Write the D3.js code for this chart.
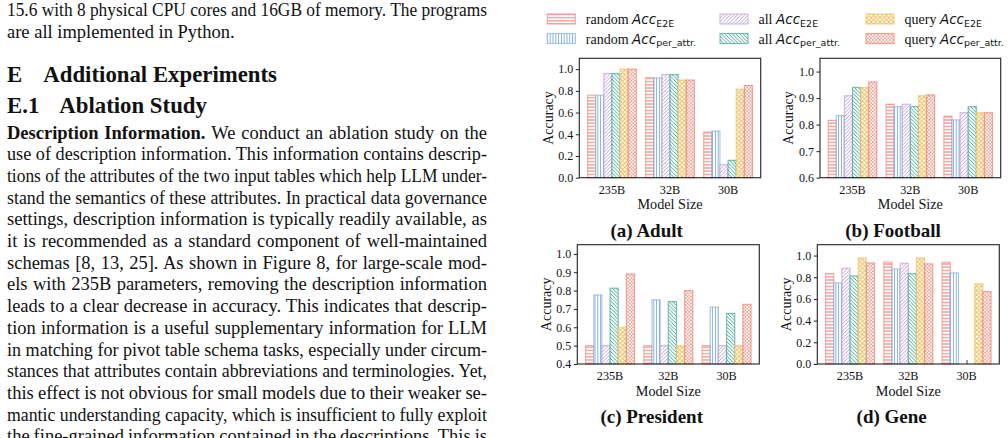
<!DOCTYPE html>
<html>
<head>
<meta charset="utf-8">
<script src="https://cdn.jsdelivr.net/npm/d3@7"></script>
<style>
  body { margin: 0; background: #fff; }
  svg { display: block; }
</style>
</head>
<body>
<svg id="page" width="1008" height="438"></svg>
<script>
// ---- data ----
const models = ["235B", "32B", "30B"];
const seriesPrefix = ["random", "random", "all", "all", "query", "query"];
const seriesSub = ["E2E", "per_attr.", "E2E", "per_attr.", "E2E", "per_attr."];
const seriesColor = ["#ee7b72", "#78a7e0", "#b796cf", "#2a9c89", "#edbd5a", "#e6735f"];

// rows = model size, columns = series (same order as seriesPrefix)
const adultAcc = [
  [0.76, 0.76, 0.96, 0.96, 1.00, 1.00],
  [0.92, 0.92, 0.95, 0.95, 0.90, 0.90],
  [0.42, 0.43, 0.12, 0.16, 0.815, 0.85]
];
const footballAcc = [
  [0.816, 0.834, 0.909, 0.940, 0.940, 0.961],
  [0.877, 0.868, 0.877, 0.868, 0.909, 0.912],
  [0.832, 0.818, 0.845, 0.868, 0.845, 0.845]
];
const presidentAcc = [
  [0.50, 0.776, 0.50, 0.813, 0.60, 0.89],
  [0.50, 0.75, 0.50, 0.74, 0.50, 0.80],
  [0.50, 0.71, 0.50, 0.675, 0.50, 0.725]
];
const geneAcc = [
  [0.834, 0.748, 0.883, 0.812, 0.978, 0.932],
  [0.940, 0.877, 0.929, 0.834, 0.978, 0.923],
  [0.938, 0.840, 0, 0, 0.740, 0.668]
];
const ticks01 = [0, 0.2, 0.4, 0.6, 0.8, 1.0];
const ticksFootball = [0.6, 0.7, 0.8, 0.9, 1.0];
const ticksPresident = [0.4, 0.5, 0.6, 0.7, 0.8, 0.9, 1.0];

const bodyTop = [
  "15.6 with 8 physical CPU cores and 16GB of memory. The programs",
  "are all implemented in Python."
];
const bodyLines = [
  "We conduct an ablation study on the",
  "use of description information. This information contains descrip-",
  "tions of the attributes of the two input tables which help LLM under-",
  "stand the semantics of these attributes. In practical data governance",
  "settings, description information is typically readily available, as",
  "it is recommended as a standard component of well-maintained",
  "schemas [8, 13, 25]. As shown in Figure 8, for large-scale mod-",
  "els with 235B parameters, removing the description information",
  "leads to a clear decrease in accuracy. This indicates that descrip-",
  "tion information is a useful supplementary information for LLM",
  "in matching for pivot table schema tasks, especially under circum-",
  "stances that attributes contain abbreviations and terminologies. Yet,",
  "this effect is not obvious for small models due to their weaker se-",
  "mantic understanding capacity, which is insufficient to fully exploit",
  "the fine-grained information contained in the descriptions. This is"
];

const svg = d3.select("#page");
const serif = "'Liberation Serif', 'Times New Roman', serif";

// ---- left column text ----
const colX = 7, colW = 480;
function justify(sel, W) {
  const node = sel.node();
  const len = node.getComputedTextLength();
  const spaces = (node.textContent.match(/ /g) || []).length;
  const ws = (W - len) / spaces;
  // too long: squeeze the whole line instead of gluing words together
  if (ws > -1) sel.style("word-spacing", ws + "px");
  else sel.attr("textLength", W).attr("lengthAdjust", "spacingAndGlyphs");
}

bodyTop.forEach((t, i) => {
  const tx = svg.append("text").attr("x", colX).attr("y", 15.5 + i * 22)
    .style("font-family", serif).style("font-size", "18.5px").attr("fill", "#111").text(t);
  if (i == 0) justify(tx, colW);
});

[["E", 7, 81.7], ["Additional Experiments", 43.3, 81.7], ["E.1", 7, 113.3], ["Ablation Study", 59.3, 113.3]]
  .forEach(h => svg.append("text").attr("x", h[1]).attr("y", h[2]).style("font-family", serif)
    .style("font-size", "22.8px").style("font-weight", "bold").attr("fill", "#111").text(h[0]));

bodyLines.forEach((t, i) => {
  const tx = svg.append("text").attr("x", colX).attr("y", 138.5 + i * 21.7)
    .style("font-family", serif).style("font-size", "18.5px").attr("fill", "#111");
  if (i == 0) {
    tx.append("tspan").style("font-weight", "bold").text("Description Information. ");
  }
  tx.append("tspan").text(t);
  justify(tx, colW);
});

// ---- hatch patterns ----
const defs = svg.append("defs");
function pattern(j, w, h, draw) {
  const p = defs.append("pattern").attr("id", "hatch" + j)
    .attr("patternUnits", "userSpaceOnUse").attr("width", w).attr("height", h);
  p.append("rect").attr("width", w).attr("height", h).attr("fill", "#fff");
  draw(p, seriesColor[j]);
}
pattern(0, 4, 3.2, (p, c) => p.append("line").attr("x1", 0).attr("x2", 4).attr("y1", 1.6).attr("y2", 1.6)
  .attr("stroke", c).attr("stroke-width", 1));
pattern(1, 2.8, 4, (p, c) => p.append("line").attr("x1", 1.4).attr("x2", 1.4).attr("y1", 0).attr("y2", 4)
  .attr("stroke", c).attr("stroke-width", 0.9));
pattern(2, 3.6, 3.6, (p, c) => p.append("path").attr("d", "M0,3.6L3.6,0M-1,1L1,-1M2.6,4.6L4.6,2.6")
  .attr("stroke", c).attr("stroke-width", 0.9));
pattern(3, 3.6, 3.6, (p, c) => p.append("path").attr("d", "M0,0L3.6,3.6M-1,2.6L1,4.6M2.6,-1L4.6,1")
  .attr("stroke", c).attr("stroke-width", 0.9));
pattern(4, 4.4, 4.4, (p, c) => p.append("path")
  .attr("d", "M0,0L4.4,4.4M0,4.4L4.4,0M-1,1L1,-1M3.4,5.4L5.4,3.4M-1,3.4L1,5.4M3.4,-1L5.4,1")
  .attr("stroke", c).attr("stroke-width", 1));
pattern(5, 3.4, 3.4, (p, c) => {
  p.append("circle").attr("cx", 0.85).attr("cy", 0.85).attr("r", 0.75).attr("fill", c);
  p.append("circle").attr("cx", 2.55).attr("cy", 2.55).attr("r", 0.75).attr("fill", c);
});

// ---- legend ----
const legendCols = [547.3, 720, 866];
const legendRows = [14, 33.5];
seriesPrefix.forEach((pre, j) => {
  const lx = legendCols[Math.floor(j / 2)], ly = legendRows[j % 2];
  svg.append("rect").attr("x", lx).attr("y", ly).attr("width", 28).attr("height", 10)
    .attr("fill", "url(#hatch" + j + ")").attr("stroke", seriesColor[j])
    .attr("stroke-opacity", 0.6).attr("stroke-width", 1.2);
  const t = svg.append("text").attr("x", lx + 38.5).attr("y", ly + 10)
    .style("font-family", serif).style("font-size", "14px").attr("fill", "#111");
  t.append("tspan").text(pre + " ");
  t.append("tspan").style("font-family", "'DejaVu Sans'").style("font-style", "italic")
    .style("font-size", "13.5px").text("Acc");
  t.append("tspan").style("font-family", "'DejaVu Sans'").style("font-size", "9.5px")
    .attr("dy", 2.5).text(seriesSub[j]);
});

// ---- panels ----
const panels = [
  { title: "(a) Adult", acc: adultAcc, ticks: ticks01, ymin: 0, ymax: 1.1,
    box: [579.3, 58.3, 760.7, 177.7], capX: 646.7, capY: 236.5 },
  { title: "(b) Football", acc: footballAcc, ticks: ticksFootball, ymin: 0.6, ymax: 1.05,
    box: [820, 58.3, 1000.7, 177.7], capX: 893, capY: 236.5 },
  { title: "(c) President", acc: presidentAcc, ticks: ticksPresident, ymin: 0.4, ymax: 1.05,
    box: [577.3, 244.7, 759.3, 364], capX: 651.7, capY: 423 },
  { title: "(d) Gene", acc: geneAcc, ticks: ticks01, ymin: 0, ymax: 1.1,
    box: [817.3, 244.7, 999.3, 364], capX: 891.7, capY: 423 }
];
const bw = 0.14;

panels.forEach(pn => {
  const [x0, y0, x1, y1] = pn.box;
  const x = d3.scaleLinear().domain([-0.562, 2.562]).range([x0, x1]);
  const y = d3.scaleLinear().domain([pn.ymin, pn.ymax]).range([y1, y0]);
  const g = svg.append("g");

  // x ticks (inward) under the bars
  const xAxis = g.append("g").attr("transform", `translate(0,${y1})`)
    .call(d3.axisTop(x).tickValues([0, 1, 2]).tickSize(4).tickFormat(""));
  xAxis.select(".domain").remove();
  xAxis.selectAll("line").attr("stroke", "#444");

  const rows = g.selectAll("g.model").data(pn.acc).enter().append("g").attr("class", "model");
  rows.selectAll("rect")
    .data((d, i) => d.map((v, j) => ({ v, i, j })).filter(e => e.v > pn.ymin))
    .enter().append("rect")
    .attr("x", e => x(e.i + (e.j - 3) * bw))
    .attr("width", x(bw) - x(0))
    .attr("y", e => y(e.v))
    .attr("height", e => y(pn.ymin) - y(e.v))
    .attr("fill", e => "url(#hatch" + e.j + ")")
    .attr("stroke", e => seriesColor[e.j])
    .attr("stroke-opacity", 0.6)
    .attr("stroke-width", 1.2);

  // x labels
  g.selectAll("text.xt").data(models).enter().append("text").attr("class", "xt")
    .attr("x", (d, i) => x(i)).attr("y", y1 + 16).attr("text-anchor", "middle")
    .style("font-family", serif).style("font-size", "12.2px").attr("fill", "#111").text(d => d);

  // y axis
  const yAxis = g.append("g").attr("transform", `translate(${x0},0)`)
    .call(d3.axisLeft(y).tickValues(pn.ticks).tickSize(3.5).tickPadding(2.5).tickFormat(d3.format(".1f")));
  yAxis.select(".domain").remove();
  yAxis.selectAll("line").attr("stroke", "#222");
  yAxis.selectAll("text").style("font-family", serif).style("font-size", "12px").attr("fill", "#111");

  // frame
  g.append("rect").attr("x", x0).attr("y", y0).attr("width", x1 - x0).attr("height", y1 - y0)
    .attr("fill", "none").attr("stroke", "#222").attr("stroke-width", 1.1);

  g.append("text").attr("transform", `translate(${x0 - 26.8},${(y0 + y1) / 2}) rotate(-90)`)
    .attr("text-anchor", "middle").style("font-family", serif).style("font-size", "14px")
    .attr("fill", "#111").text("Accuracy");
  g.append("text").attr("x", (x0 + x1) / 2).attr("y", y1 + 31.5).attr("text-anchor", "middle")
    .style("font-family", serif).style("font-size", "14.2px").attr("fill", "#111").text("Model Size");
  g.append("text").attr("x", pn.capX).attr("y", pn.capY).attr("text-anchor", "middle")
    .style("font-family", serif).style("font-size", "19px").style("font-weight", "bold")
    .attr("fill", "#111").text(pn.title);
});
</script>
</body>
</html>
